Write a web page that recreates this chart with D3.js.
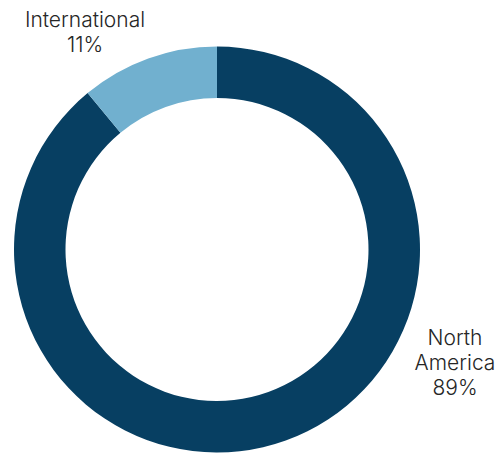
<!DOCTYPE html>
<html>
  <head>
    <meta charset="utf-8">
    <title>Revenue by region</title>
    <script src="https://cdn.jsdelivr.net/npm/d3@7"></script>
    <style>
      body { margin: 0; background: #fff; }
      text { font-family: Inter, Roboto, sans-serif; fill: #262626; }
    </style>
  </head>
  <body>
    <svg id="chart" width="496" height="453"></svg>
    <script>
      // regions and their share
      const regions = ["North America", "International"];
      const shares = [89, 11];
      const colors = ["#073f62", "#71b0cf"];
      const labelLines = [["North", "America", "89%"], ["International", "11%"]];

      const svg = d3.select("#chart");
      const cx = 217, cy = 249.5;
      const outer = 203, inner = 151.5;

      const pie = d3.pie().sort(null).value(function(d) { return d; });
      const arc = d3.arc().innerRadius(inner).outerRadius(outer);
      const color = d3.scaleOrdinal().domain(regions).range(colors);

      const g = svg.append("g").attr("transform", "translate(" + cx + "," + cy + ")");
      g.selectAll("path")
          .data(pie(shares))
        .enter().append("path")
          .attr("d", arc)
          .attr("fill", function(d, i) { return color(regions[i]); });

      // labels placed outside the ring
      const labelPos = [[455, 345], [85, 27]];
      labelLines.forEach(function(lines, i) {
        const t = svg.append("text")
          .attr("text-anchor", "middle")
          .attr("font-size", 21)
          .attr("font-weight", 300);
        lines.forEach(function(line, j) {
          t.append("tspan")
            .attr("x", labelPos[i][0])
            .attr("y", labelPos[i][1] + j * 25)
            .text(line);
        });
      });
    </script>
  </body>
</html>
